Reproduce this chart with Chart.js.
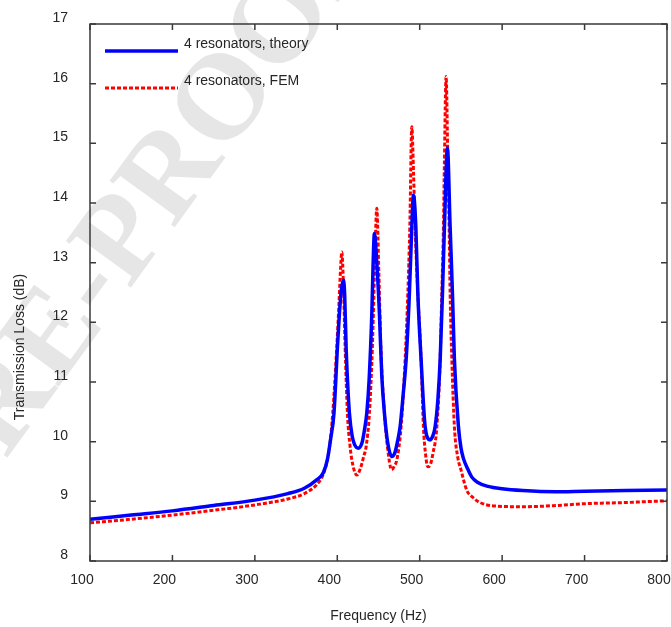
<!DOCTYPE html>
<html>
<head>
<meta charset="utf-8">
<title>Transmission Loss</title>
<script src="https://cdn.jsdelivr.net/npm/chart.js@4.4.1/dist/chart.umd.min.js"></script>
<style>
    html, body { margin: 0; padding: 0; background: #fff; }
    #wrap { width: 671px; height: 627px; }
</style>
</head>
<body>
<div id="wrap"><canvas id="tlChart" width="671" height="627"></canvas></div>
<script>
// --- values ---
const seriesLabels = ['4 resonators, theory', '4 resonators, FEM'];

const theoryFreq = [100, 150, 200, 250, 300, 340, 360, 375, 383, 388, 392, 396, 400.2, 402.6, 405, 407.4, 409, 410.7, 412.5, 414.7,
    418, 421, 425.6, 430, 433, 435.8, 438.6, 441.9, 443.5, 445, 447.5, 451.1, 454, 457.2, 461, 466.1, 470, 473, 476.2,
    480, 483.5, 487.5, 490.4, 492.4, 495.3, 497.7, 501.7, 506.6, 512.6, 516, 518.7, 522, 524.8, 527.6, 530, 533.6,
    536.9, 539.7, 542.1, 547, 550, 553, 558, 563, 570, 583, 600, 625, 665, 700, 750, 800];
const theoryTL = [8.70, 8.77, 8.84, 8.93, 9.02, 9.13, 9.22, 9.36, 9.48, 9.7, 10.05, 10.48, 11.59, 12.15, 12.55, 12.71, 12.45, 11.59, 11.0, 10.48,
    10.1, 9.95, 9.89, 9.98, 10.2, 10.48, 11.03, 12.15, 13.0, 13.49, 13.1, 12.15, 11.1, 10.48, 10.0, 9.75, 9.82, 10.0, 10.25,
    10.8, 11.37, 12.49, 13.6, 14.13, 13.6, 12.49, 11.37, 10.25, 10.03, 10.1, 10.25, 10.7, 11.37, 12.49, 13.6, 14.92,
    13.6, 12.49, 11.37, 10.25, 9.9, 9.72, 9.55, 9.41, 9.32, 9.25, 9.21, 9.18, 9.16, 9.17, 9.18, 9.19];

const femFreq = [100, 150, 200, 250, 300, 340, 360, 375, 383, 388, 391, 394.5, 399.4, 402, 404, 405.5, 407.5, 409.5, 412.3, 415.5,
    419, 423.7, 428, 432, 435, 439, 442.6, 445.5, 447.9, 450.5, 452.8, 457.2, 460.8, 466, 469.5, 472.2, 477.4,
    482.3, 485.6, 488, 490.4, 492.5, 494.4, 497.7, 501.7, 504.5, 507, 509.8, 513, 516, 520.8, 524.8, 526.8, 528.8, 530, 532,
    534.1, 535.7, 536.9, 539, 542.1, 546, 550, 557, 565, 573, 593, 625, 666, 700, 750, 800];
const femTL = [8.64, 8.70, 8.77, 8.85, 8.94, 9.04, 9.13, 9.28, 9.45, 9.7, 9.95, 10.48, 11.59, 12.3, 12.9, 13.18, 12.6, 11.59, 10.48, 9.92,
    9.6, 9.44, 9.55, 9.75, 9.92, 10.48, 11.59, 13.0, 13.91, 12.8, 11.59, 10.48, 9.92, 9.53, 9.6, 9.69, 10.25,
    11.37, 12.49, 13.6, 15.28, 14.5, 13.6, 12.49, 11.37, 10.25, 9.8, 9.58, 9.62, 9.8, 10.25, 11.37, 12.49, 13.6, 14.72, 16.12,
    14.72, 13.6, 12.49, 11.37, 10.25, 9.75, 9.53, 9.19, 9.06, 8.98, 8.92, 8.91, 8.93, 8.96, 8.98, 9.01];

const xTickValues = [100, 200, 300, 400, 500, 600, 700, 800];
const yTickValues = [8, 9, 10, 11, 12, 13, 14, 15, 16, 17];

const xTitle = 'Frequency (Hz)';
const yTitle = 'Transmission Loss (dB)';

const textColor = '#262626';
const fontFamily = '"Liberation Sans", Arial, Helvetica, sans-serif';

// faint diagonal watermark behind everything
const watermark = {
    id: 'watermark',
    beforeDraw(chart) {
        const ctx = chart.ctx;
        ctx.save();
        ctx.translate(-38, 520);
        ctx.rotate(-54 * Math.PI / 180);
        ctx.font = 'bold 122px "Liberation Serif", "Times New Roman", serif';
        ctx.fillStyle = '#e6e6e6';
        ctx.fillText('PRE-PROOF', 0, 0);
        ctx.restore();
    }
};

// box round the plot with inward ticks on all four sides
const axesBox = {
    id: 'axesBox',
    afterDatasetsDraw(chart) {
        const { ctx, chartArea: a, scales: { x, y } } = chart;
        const len = 6;
        ctx.save();
        ctx.strokeStyle = '#3a3a3a';
        ctx.lineWidth = 1.5;
        ctx.strokeRect(a.left, a.top, a.right - a.left, a.bottom - a.top);
        ctx.beginPath();
        x.ticks.forEach(t => {
            const px = x.getPixelForValue(t.value);
            ctx.moveTo(px, a.bottom); ctx.lineTo(px, a.bottom - len);
            ctx.moveTo(px, a.top); ctx.lineTo(px, a.top + len);
        });
        y.ticks.forEach(t => {
            const py = y.getPixelForValue(t.value);
            ctx.moveTo(a.left, py); ctx.lineTo(a.left + len, py);
            ctx.moveTo(a.right, py); ctx.lineTo(a.right - len, py);
        });
        ctx.stroke();
        ctx.restore();
    }
};

// legend with long line samples, inside the top-left corner
const lineLegend = {
    id: 'lineLegend',
    afterDatasetsDraw(chart) {
        const { ctx, chartArea: a } = chart;
        ctx.save();
        chart.data.datasets.forEach((ds, i) => {
            const yLine = a.top + 27 + i * 37;
            ctx.strokeStyle = ds.borderColor;
            ctx.lineWidth = ds.borderWidth;
            ctx.setLineDash(ds.borderDash || []);
            ctx.beginPath();
            ctx.moveTo(a.left + 15, yLine);
            ctx.lineTo(a.left + 88, yLine);
            ctx.stroke();
            ctx.setLineDash([]);
            ctx.fillStyle = textColor;
            ctx.font = '14px ' + fontFamily;
            ctx.textBaseline = 'middle';
            ctx.fillText(ds.label, a.left + 94, yLine - 7);
        });
        ctx.restore();
    }
};

// y title sits a bit below the middle of the axis in the original
const yAxisTitle = {
    id: 'yAxisTitle',
    afterDraw(chart) {
        const ctx = chart.ctx;
        ctx.save();
        ctx.translate(20, 347);
        ctx.rotate(-Math.PI / 2);
        ctx.font = '14px ' + fontFamily;
        ctx.fillStyle = textColor;
        ctx.textAlign = 'center';
        ctx.textBaseline = 'middle';
        ctx.fillText(yTitle, 0, 0);
        ctx.restore();
    }
};

// keep the labels from pushing the plot area inwards
function noLabelPadding(scale) {
    scale.paddingLeft = 0;
    scale.paddingRight = 0;
    scale.paddingTop = 0;
    scale.paddingBottom = 0;
}

const ctx = document.getElementById('tlChart').getContext('2d');

new Chart(ctx, {
    type: 'line',
    data: {
        datasets: [{
            label: seriesLabels[0],
            data: theoryFreq.map((f, i) => ({ x: f, y: theoryTL[i] })),
            borderColor: '#0000ff',
            borderWidth: 3.5,
            pointRadius: 0,
            cubicInterpolationMode: 'monotone',
            fill: false
        }, {
            label: seriesLabels[1],
            data: femFreq.map((f, i) => ({ x: f, y: femTL[i] })),
            borderColor: '#ff0000',
            borderWidth: 3,
            borderDash: [4, 2],
            pointRadius: 0,
            cubicInterpolationMode: 'monotone',
            fill: false
        }]
    },
    options: {
        responsive: false,
        animation: false,
        layout: { padding: { top: 24, right: 4, left: 0, bottom: 0 } },
        plugins: {
            legend: { display: false },
            tooltip: { enabled: false }
        },
        scales: {
            x: {
                type: 'linear',
                min: 100,
                max: 800,
                afterBuildTicks: scale => { scale.ticks = xTickValues.map(v => ({ value: v })); },
                afterFit: scale => { scale.height = 66; noLabelPadding(scale); },
                grid: { display: false, drawTicks: false },
                border: { display: false },
                ticks: {
                    color: textColor,
                    font: { family: fontFamily, size: 14 },
                    padding: 11,
                    labelOffset: -8,
                    maxRotation: 0
                },
                title: {
                    display: true,
                    text: xTitle,
                    color: textColor,
                    font: { family: fontFamily, size: 14 },
                    padding: { top: 0, bottom: 2 }
                }
            },
            y: {
                min: 8,
                max: 17,
                afterBuildTicks: scale => { scale.ticks = yTickValues.map(v => ({ value: v })); },
                afterFit: scale => { scale.width = 90; noLabelPadding(scale); },
                grid: { display: false, drawTicks: false },
                border: { display: false },
                ticks: {
                    color: textColor,
                    font: { family: fontFamily, size: 14 },
                    padding: 22,
                    labelOffset: -6
                }
            }
        }
    },
    plugins: [watermark, axesBox, lineLegend, yAxisTitle]
});
</script>
</body>
</html>
